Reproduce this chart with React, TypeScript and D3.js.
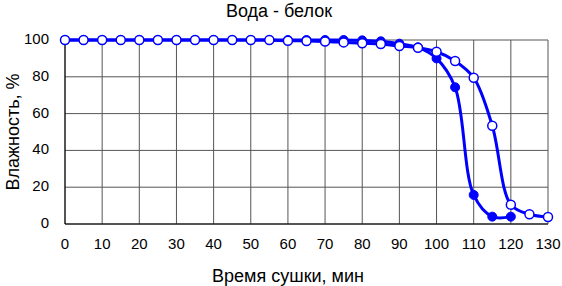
import * as d3 from "d3"

const times = d3.range(0, 135, 5)
const openValues = [
  100, 100, 100, 100, 100, 100, 100, 100, 100, 100, 100, 100, 99.6, 99.5, 99.2, 98.7, 98.2, 97.8, 96.7, 95.8,
  93.6, 88.6, 79.5, 53.4, 10.5, 5.3, 3.8,
]
const filledTimes = d3.range(0, 125, 5)
const filledValues = [
  100, 100, 100, 100, 100, 100, 100, 100, 100, 100, 100, 100, 100, 100, 100, 100, 99.8, 99.3, 98, 96,
  90, 74.3, 15.8, 4, 4,
]
const xTicks = d3.range(0, 140, 10)
const yTicks = [0, 20, 40, 60, 80, 100]

const width = 562
const height = 286
const margin = { top: 40, right: 14, bottom: 62, left: 65 }

export default function App() {
  const x = d3
    .scaleLinear()
    .domain([0, 130])
    .range([margin.left, width - margin.right])
  const y = d3
    .scaleLinear()
    .domain([0, 100])
    .range([height - margin.bottom, margin.top])

  const line = d3
    .line<[number, number]>()
    .x((d) => x(d[0]))
    .y((d) => y(d[1]))
    .curve(d3.curveCatmullRom.alpha(0.5))

  const openData: [number, number][] = times.map((t, i) => [t, openValues[i]])
  const filledData: [number, number][] = filledTimes.map((t, i) => [t, filledValues[i]])
  const font = "'Liberation Sans', Arial, sans-serif"

  return (
    <svg
      width={width}
      height={height}
      style={{ position: "absolute", left: 0, top: 0, background: "white" }}
      fontFamily={font}
    >
      <text x={279} y={17} textAnchor="middle" fontSize={18}>
        Вода - белок
      </text>
      {xTicks.map((t) => (
        <line key={"gx" + t} x1={x(t)} x2={x(t)} y1={y(0)} y2={y(100)} stroke="#555" strokeWidth={1} />
      ))}
      {yTicks.map((t) => (
        <line key={"gy" + t} x1={x(0)} x2={x(130)} y1={y(t)} y2={y(t)} stroke="#555" strokeWidth={1} />
      ))}
      <line x1={x(0)} x2={x(0)} y1={y(0)} y2={y(100)} stroke="#000" />
      <line x1={x(0)} x2={x(130)} y1={y(0)} y2={y(0)} stroke="#000" />
      {xTicks.map((t) => (
        <text key={"tx" + t} x={x(t)} y={y(0) + 25} textAnchor="middle" fontSize={15}>
          {t}
        </text>
      ))}
      {yTicks.map((t) => (
        <text key={"ty" + t} x={x(0) - 16} y={y(t)} textAnchor="end" dominantBaseline="middle" fontSize={15}>
          {t}
        </text>
      ))}
      <text x={288} y={282} textAnchor="middle" fontSize={18}>
        Время сушки, мин
      </text>
      <text
        transform={`translate(14, ${(y(0) + y(100)) / 2}) rotate(-90)`}
        textAnchor="middle"
        dominantBaseline="middle"
        fontSize={18}
      >
        Влажность, %
      </text>

      <path d={line(filledData) ?? ""} fill="none" stroke="#0000ff" strokeWidth={3} />
      {filledData.map((d, i) => (
        <circle key={"f" + i} cx={x(d[0])} cy={y(d[1])} r={4.5} fill="#0000ff" stroke="#0000ff" strokeWidth={1} />
      ))}
      <path d={line(openData) ?? ""} fill="none" stroke="#0000ff" strokeWidth={3} />
      {openData.map((d, i) => (
        <circle key={"o" + i} cx={x(d[0])} cy={y(d[1])} r={4.5} fill="white" stroke="#0000ff" strokeWidth={1.5} />
      ))}
    </svg>
  )
}
